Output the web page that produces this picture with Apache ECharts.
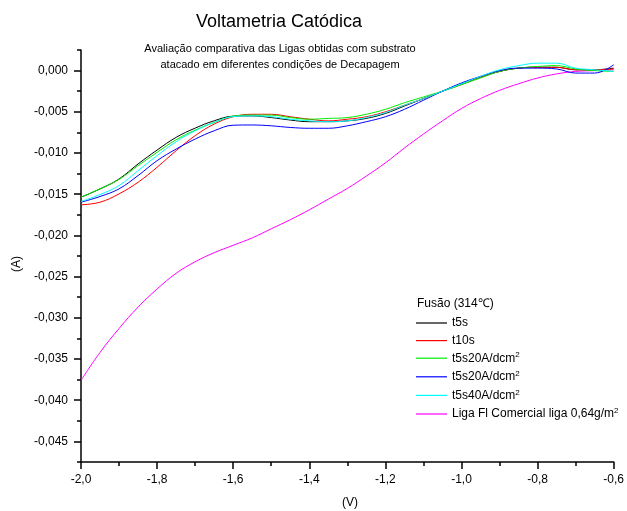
<!DOCTYPE html>
<html>
<head>
<meta charset="utf-8">
<script src="https://cdn.jsdelivr.net/npm/echarts@6/dist/echarts.min.js"></script>
<style>
  html, body { margin: 0; padding: 0; background: #fff; }
  #chart { width: 627px; height: 511px; }
</style>
</head>
<body>
<div id="chart"></div>
<script>
// potencial (V)
var voltages = [-2.0, -1.95, -1.9, -1.85, -1.8, -1.75, -1.7, -1.65, -1.6, -1.55,
  -1.5, -1.45, -1.4, -1.35, -1.3, -1.25, -1.2, -1.15, -1.1, -1.05,
  -1.0, -0.95, -0.9, -0.85, -0.8, -0.75, -0.7, -0.65, -0.6];

// corrente (A)
var t5s = [-0.01536, -0.01436, -0.01315, -0.01133, -0.00964, -0.0081, -0.00698, -0.00609, -0.00553, -0.0055,
  -0.0057, -0.0060, -0.0062, -0.0062, -0.0061, -0.0058, -0.0052, -0.0043, -0.0034, -0.0025,
  -0.0016, -0.0008, -0.0001, 0.0003, 0.0004, 0.0004, 0.0001, 0.0001, 0.0003];
var t10s = [-0.01629, -0.01597, -0.01496, -0.01355, -0.01173, -0.00972, -0.0079, -0.00649, -0.0056, -0.0053,
  -0.0053, -0.0056, -0.0059, -0.0061, -0.0059, -0.0056, -0.0050, -0.0042, -0.0034, -0.0025,
  -0.0017, -0.0008, -0.0001, 0.0003, 0.0004, 0.0004, 0.0001, 0.0001, 0.0002];
var t5s20A_a = [-0.01536, -0.01436, -0.0132, -0.01153, -0.00992, -0.00839, -0.00722, -0.00629, -0.00553, -0.0054,
  -0.0054, -0.0057, -0.0059, -0.0058, -0.0057, -0.0053, -0.0047, -0.0039, -0.0032, -0.0025,
  -0.0017, -0.0009, -0.0001, 0.0003, 0.0005, 0.0006, 0.0002, 0.0000, -0.0001];
var t5s20A_b = [-0.01597, -0.01528, -0.01435, -0.01274, -0.01093, -0.00952, -0.00831, -0.0073, -0.00663, -0.0066,
  -0.0067, -0.0069, -0.0070, -0.0070, -0.0067, -0.0062, -0.0056, -0.0047, -0.0036, -0.0025,
  -0.0015, -0.0007, 0.0000, 0.0003, 0.0003, 0.0002, -0.0003, -0.0003, 0.0007];
var t5s40A = [-0.01589, -0.01504, -0.01395, -0.01214, -0.01032, -0.00863, -0.0073, -0.00629, -0.00558, -0.0055,
  -0.0056, -0.0059, -0.0061, -0.0062, -0.0061, -0.0057, -0.0051, -0.0042, -0.0034, -0.0025,
  -0.0016, -0.0007, 0.0001, 0.0006, 0.0009, 0.0009, 0.0003, 0.0001, -0.0001];
var ligaComercial = [-0.0376, -0.0342, -0.0313, -0.0287, -0.0265, -0.0246, -0.0232, -0.0221, -0.0212, -0.0203,
  -0.0192, -0.0181, -0.0169, -0.0156, -0.0143, -0.0128, -0.0112, -0.0094, -0.0077, -0.0061,
  -0.0046, -0.0034, -0.0024, -0.0016, -0.0009, -0.0004, -0.0001, 0.0000, 0.0001];

var seriesNames = ["s1", "s2", "s3", "s4", "s5", "s6"];
var legendLabels = ["t5s", "t10s", "t5s20A/dcm{s|2}", "t5s20A/dcm{s|2}", "t5s40A/dcm{s|2}", "Liga Fl Comercial liga 0,64g/m{s|2}"];
var colors = ["#000000", "#ff0000", "#00ee00", "#0000ff", "#00ffff", "#ff00ff"];
var allData = [t5s, t10s, t5s20A_a, t5s20A_b, t5s40A, ligaComercial];

var FONT = "Liberation Sans, Arial, sans-serif";

var myChart = echarts.init(document.getElementById("chart"));

var series = [];
for (var i = 0; i < allData.length; i++) {
  var pts = [];
  for (var j = 0; j < voltages.length; j++) {
    pts.push([voltages[j], allData[i][j]]);
  }
  series.push({
    name: seriesNames[i],
    type: "line",
    xAxisIndex: 0,
    yAxisIndex: 0,
    data: pts,
    smooth: 0.4,
    symbol: "none",
    lineStyle: { color: colors[i], width: 1 },
    itemStyle: { color: colors[i] },
    z: i == 5 ? 1 : 2
  });
}

var option = {
  animation: false,
  backgroundColor: "#fff",
  textStyle: { fontFamily: FONT },
  grid: [
    { left: 81, right: 8, top: 50, bottom: 49 },
    { left: 81, right: 8, top: 70.6, bottom: 69.6 }
  ],
  xAxis: [
    {
      type: "value",
      gridIndex: 0,
      min: -2.0,
      max: -0.6,
      interval: 0.2,
      splitLine: { show: false },
      axisLine: { onZero: false, lineStyle: { color: "#000", width: 1.5 } },
      axisTick: { length: 7, lineStyle: { color: "#000", width: 1.5 } },
      minorTick: { show: true, splitNumber: 2, length: 4, lineStyle: { color: "#000", width: 1.5 } },
      axisLabel: {
        color: "#000",
        fontSize: 12,
        fontFamily: FONT,
        margin: 12,
        formatter: function (v) { return v.toFixed(1).replace(".", ","); }
      }
    },
    {
      type: "value",
      gridIndex: 1,
      min: -2.0,
      max: -0.6,
      show: false
    }
  ],
  yAxis: [
    {
      type: "value",
      gridIndex: 0,
      min: -0.0475,
      max: 0.0025,
      interval: 0.0025,
      splitLine: { show: false },
      axisLine: { onZero: false, lineStyle: { color: "#000", width: 1.5 } },
      axisTick: { length: 4, lineStyle: { color: "#000", width: 1.5 } },
      axisLabel: { show: false }
    },
    {
      type: "value",
      gridIndex: 1,
      min: -0.045,
      max: 0,
      interval: 0.005,
      splitLine: { show: false },
      axisLine: { show: false },
      axisTick: { length: 7, lineStyle: { color: "#000", width: 1.5 } },
      axisLabel: {
        color: "#000",
        fontSize: 12,
        fontFamily: FONT,
        margin: 13,
        formatter: function (v) { return v.toFixed(3).replace(".", ","); }
      }
    }
  ],
  legend: {
    orient: "vertical",
    left: 416,
    top: 316,
    padding: 0,
    icon: "rect",
    itemWidth: 31,
    itemHeight: 1.2,
    itemGap: 3.6,
    data: seriesNames,
    formatter: function (name) {
      return legendLabels[seriesNames.indexOf(name)];
    },
    textStyle: {
      color: "#000",
      fontSize: 12,
      fontFamily: FONT,
      lineHeight: 14,
      rich: {
        s: { fontSize: 8, lineHeight: 14, verticalAlign: "top", padding: [0, 0, 7, 0], color: "#000" }
      }
    }
  },
  graphic: [
    {
      type: "text", x: 279, y: 22,
      style: { text: "Voltametria Catódica", font: "18px " + FONT, fill: "#000", textAlign: "center", textVerticalAlign: "middle" }
    },
    {
      type: "text", x: 280, y: 49,
      style: { text: "Avaliação comparativa das Ligas obtidas com substrato", font: "11px " + FONT, fill: "#000", textAlign: "center", textVerticalAlign: "middle" }
    },
    {
      type: "text", x: 280, y: 65,
      style: { text: "atacado em diferentes condições de Decapagem", font: "11px " + FONT, fill: "#000", textAlign: "center", textVerticalAlign: "middle" }
    },
    {
      type: "text", x: 417, y: 304,
      style: { text: "Fusão (314℃)", font: "12px " + FONT, fill: "#000", textAlign: "left", textVerticalAlign: "middle" }
    },
    {
      type: "text", x: 350, y: 503,
      style: { text: "(V)", font: "12px " + FONT, fill: "#000", textAlign: "center", textVerticalAlign: "middle" }
    },
    {
      type: "text", x: 17, y: 264, rotation: Math.PI / 2,
      style: { text: "(A)", font: "12px " + FONT, fill: "#000", textAlign: "center", textVerticalAlign: "middle" }
    }
  ],
  series: series
};

myChart.setOption(option);
</script>
</body>
</html>
